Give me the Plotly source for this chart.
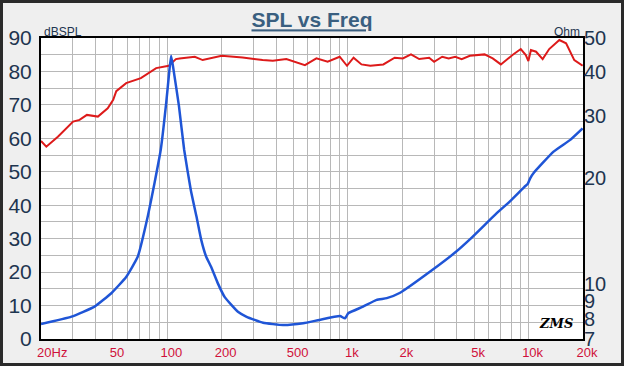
import plotly.graph_objects as go
import numpy as np

# SPL (dB) vs frequency (Hz)
spl_freq = [20, 21.4, 24.8, 30.1, 32.7, 35.9, 41.3, 46.8, 50.2, 52.2, 59.2, 71.4, 86.8, 101.9,
            111.6, 117, 142, 157, 200, 261, 337, 384, 456, 578, 669, 772, 900, 988, 1074, 1188,
            1330, 1570, 1814, 2013, 2233, 2480, 2814, 2998, 3325, 3610, 3926, 4260, 4727, 5250,
            5700, 6330, 7020, 8140, 9050, 9650, 9970, 10300, 11000, 11960, 13000, 14800, 16120,
            17900, 19900]
spl_db = [59.2, 57.5, 60.5, 65.0, 65.5, 67.0, 66.5, 69.0, 71.5, 74.1, 76.5, 78.0, 81.0, 81.7,
          83.7, 83.9, 84.4, 83.4, 84.7, 84.2, 83.4, 83.2, 83.7, 81.9, 83.9, 82.9, 84.4, 81.7, 84.1,
          82.1, 81.7, 82.1, 84.1, 83.9, 85.1, 83.7, 84.1, 82.9, 84.4, 83.9, 84.4, 83.7, 84.7, 84.9,
          85.1, 83.9, 82.1, 84.9, 86.7, 84.9, 83.1, 86.4, 85.9, 83.7, 86.7, 89.4, 88.4, 83.4, 81.7]

# Impedance (Ohm) vs frequency (Hz)
imp_freq = [20, 29.5, 39.6, 49, 59.2, 68.7, 78, 85, 92, 98.6, 102.5, 105, 108, 116, 124, 135, 145,
            154, 164, 175, 190, 208, 227, 246, 275, 339, 437, 565, 695, 903, 962, 1004, 1212,
            1441, 1640, 1944, 2940, 3870, 4860, 6640, 7880, 9480, 9900, 10200, 10660, 13740,
            17000, 19900]
imp_ohm = [7.72, 8.10, 8.65, 9.44, 10.5, 12.0, 15.6, 19.4, 24.1, 32.7, 40.0, 44.5, 41.0, 32.1,
           24.1, 18.5, 15.6, 13.4, 12.0, 11.2, 10.1, 9.2, 8.73, 8.36, 8.09, 7.78, 7.67, 7.76,
           7.93, 8.13, 8.01, 8.28, 8.65, 9.04, 9.14, 9.47, 11.0, 12.25, 13.6, 15.9, 17.2, 18.9,
           19.3, 20.0, 20.7, 23.8, 25.7, 27.7]

x_tick_vals = [20, 50, 100, 200, 500, 1000, 2000, 5000, 10000, 20000]
x_tick_text = ["\u00a0\u00a0\u00a0\u00a020Hz", "50", "100", "200", "500", "1k", "2k", "5k", "10k", "20k"]
y_tick_vals = [0, 10, 20, 30, 40, 50, 60, 70, 80, 90]
ohm_tick_vals = [7, 8, 9, 10, 20, 30, 40, 50]

# grid at every 1..9 multiple per decade
grid_vals = [m * 10 ** e for e in range(1, 5) for m in range(1, 10) if 20 <= m * 10 ** e <= 20000]

label_color = "#1e3550"
font_fam = "Liberation Sans, Arial, sans-serif"

fig = go.Figure()

fig.add_trace(go.Scatter(x=spl_freq, y=spl_db, mode="lines", line=dict(color="#dd1a1a", width=2),
                         yaxis="y", showlegend=False))
fig.add_trace(go.Scatter(x=imp_freq, y=imp_ohm, mode="lines",
                         line=dict(color="#1f55d6", width=2.5, shape="spline", smoothing=0.4),
                         yaxis="y2", showlegend=False))

L, R, T, B = 41, 41, 38, 27
W, H = 624, 366
pw, ph = W - L - R, H - T - B

fig.update_layout(
    width=W, height=H,
    margin=dict(l=L, r=R, t=T, b=B),
    paper_bgcolor="#efefef",
    plot_bgcolor="white",
    font=dict(family=font_fam),
    title=dict(text="<b>SPL vs Freq</b>", x=0.5, xanchor="center", y=1 - 20 / H, yanchor="middle",
               font=dict(size=21, color="#3a5f80", lineposition="under")),
    xaxis=dict(type="log", range=[np.log10(20), np.log10(20000)], automargin=False,
               tickvals=x_tick_vals, ticktext=x_tick_text,
               tickfont=dict(size=13, color="#d0103a"), ticks="", ticklabelshift=4,
               showgrid=False, showline=True, mirror=True, linecolor="black", linewidth=2,
               zeroline=False,
               minor=dict(tickvals=grid_vals, showgrid=True, gridcolor="#b8b8b8", gridwidth=1, ticks="")),
    yaxis=dict(range=[0, 90], tickvals=y_tick_vals, tickfont=dict(size=21, color=label_color),
               automargin=False,
               ticks="", showgrid=True, gridcolor="#b8b8b8", gridwidth=1, zeroline=False,
               minor=dict(dtick=5, showgrid=True, gridcolor="#b8b8b8", gridwidth=1),
               showline=True, mirror=True, linecolor="black", linewidth=2, ticklabelstandoff=3),
    yaxis2=dict(type="log", range=[np.log10(7), np.log10(50)], overlaying="y", side="right",
                automargin=False,
                tickvals=ohm_tick_vals, ticktext=[str(v) for v in ohm_tick_vals],
                tickfont=dict(size=20, color=label_color), ticks="", showgrid=False, zeroline=False,
                showline=False, ticklabelstandoff=0),
    shapes=[dict(type="rect", xref="paper", yref="paper",
                 x0=-L / pw + 1.5 / pw, x1=1 + R / pw - 1.5 / pw,
                 y0=-B / ph + 1.5 / ph, y1=1 + T / ph - 1.5 / ph,
                 line=dict(color="#2a2a2a", width=3), layer="below")],
    annotations=[
        dict(text="dBSPL", xref="paper", yref="paper", x=0.002, y=1, xanchor="left", yanchor="bottom",
             showarrow=False, font=dict(size=12, color=label_color), yshift=-3),
        dict(text="Ohm", xref="paper", yref="paper", x=0.998, y=1, xanchor="right", yanchor="bottom",
             showarrow=False, font=dict(size=12, color=label_color), yshift=-3),
        dict(text="<i><b>ZMS</b></i>", xref="paper", yref="paper", x=0.985, y=0.02, xanchor="right",
             yanchor="bottom", showarrow=False, font=dict(size=13, color="black", family="DejaVu Serif")),
    ],
)

fig.write_html("out.html", config={"displayModeBar": False},
               post_script="document.body.style.margin='0';document.body.style.overflow='hidden';")
